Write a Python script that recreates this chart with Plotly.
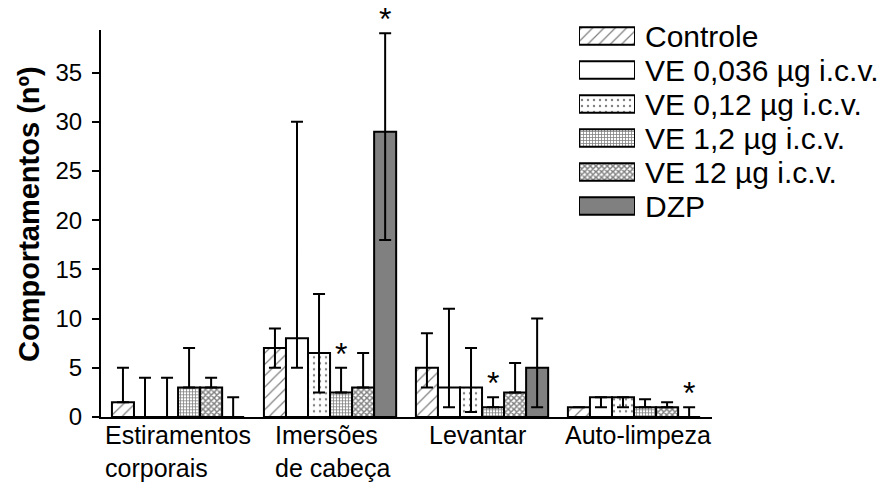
import plotly.graph_objects as go

# --- data -----------------------------------------------------------------
categories = ["Estiramentos<br>corporais", "Imersões<br>de cabeça", "Levantar", "Auto-limpeza"]
series = ["Controle", "VE 0,036 µg i.c.v.", "VE 0,12 µg i.c.v.", "VE 1,2 µg i.c.v.", "VE 12 µg i.c.v.", "DZP"]

# medians (bar height) and the upper / lower ends of the error bars
controle_med = [1.5, 7, 5, 1]
controle_hi = [5, 9, 8.5, 1]
controle_lo = [1.5, 5, 3, 1]

ve0036_med = [0, 8, 3, 2]
ve0036_hi = [4, 30, 11, 2]
ve0036_lo = [0, 5, 1, 1]

ve012_med = [0, 6.5, 3, 2]
ve012_hi = [4, 12.5, 7, 2]
ve012_lo = [0, 2.5, 0.5, 1]

ve12_med = [3, 2.5, 1, 1]
ve12_hi = [7, 5, 2, 1.8]
ve12_lo = [3, 2.5, 1, 1]

ve120_med = [3, 3, 2.5, 1]
ve120_hi = [4, 6.5, 5.5, 1.5]
ve120_lo = [3, 3, 2.5, 1]

dzp_med = [0, 29, 5, 0]
dzp_hi = [2, 39, 10, 1]
dzp_lo = [0, 18, 1, 0]

# (category index, series index) marked with an asterisk
significant = [(1, 3), (1, 5), (2, 3), (3, 5)]

y_ticks = [0, 5, 10, 15, 20, 25, 30, 35]

# --- styling --------------------------------------------------------------
FONT = "Arial, Liberation Sans, sans-serif"
W, H = 895, 489
ML, MR, MT, MB = 101, 183, 10, 72
BARGAP = 0.13
PX_PER_UNIT = 9.84
Y_MAX = 39.3

patterns = [
    dict(shape="/", size=8, solidity=0.15, fgcolor="black", bgcolor="white"),
    dict(shape="", fgcolor="black", bgcolor="white"),
    dict(shape=".", size=6, solidity=0.12, fgcolor="black", bgcolor="white"),
    dict(shape="+", size=3, solidity=0.45, fgcolor="black", bgcolor="white"),
    dict(shape="x", size=4, solidity=0.6, fgcolor="black", bgcolor="white"),
    dict(shape=""),
]
fills = ["white", "white", "white", "white", "white", "#808080"]

meds = [controle_med, ve0036_med, ve012_med, ve12_med, ve120_med, dzp_med]
his = [controle_hi, ve0036_hi, ve012_hi, ve12_hi, ve120_hi, dzp_hi]
los = [controle_lo, ve0036_lo, ve012_lo, ve12_lo, ve120_lo, dzp_lo]


def paper_x(px):
    return (px - ML) / (W - ML - MR)


def paper_y(py):
    return 1 - (py - MT) / (H - MT - MB)


Y_TOP = paper_y(417 - Y_MAX * PX_PER_UNIT)  # top of the main y axis (paper units)

fig = go.Figure()

for name, med, hi, lo, pat, fill in zip(series, meds, his, los, patterns, fills):
    fig.add_bar(
        x=categories,
        y=med,
        name=name,
        showlegend=False,
        cliponaxis=False,
        marker=dict(color=fill, line=dict(color="black", width=2), pattern=pat),
        error_y=dict(
            type="data",
            symmetric=False,
            array=[h - m for h, m in zip(hi, med)],
            arrayminus=[m - l for m, l in zip(med, lo)],
            color="black",
            thickness=2,
            width=6,
        ),
    )
    # legend swatch drawn in its own small subplot
    fig.add_bar(
        x=[1],
        y=[name],
        orientation="h",
        width=0.52,
        showlegend=False,
        hoverinfo="skip",
        marker=dict(color=fill, line=dict(color="black", width=2), pattern=pat),
        xaxis="x2",
        yaxis="y2",
    )
    fig.add_annotation(
        x=paper_x(643),
        y=name,
        xref="paper",
        yref="y2",
        text=name,
        showarrow=False,
        xanchor="left",
        font=dict(family=FONT, size=30, color="black"),
    )

# asterisks above significant bars
bar_w = (1 - BARGAP) / len(series)
for ci, si in significant:
    fig.add_annotation(
        x=ci + (si - (len(series) - 1) / 2) * bar_w,
        y=his[si][ci] / Y_MAX * Y_TOP,
        xref="x",
        yref="paper",
        text="*",
        showarrow=False,
        yanchor="bottom",
        yshift=-6,
        font=dict(family=FONT, size=32, color="black"),
    )

# category labels, left aligned as in the original
label_left_px = [103, 273, 427, 563]
for cat, lx in zip(categories, label_left_px):
    fig.add_annotation(
        x=paper_x(lx),
        y=0,
        xref="paper",
        yref="paper",
        text=cat,
        showarrow=False,
        xanchor="left",
        yanchor="top",
        align="left",
        yshift=-2,
        font=dict(family=FONT, size=25, color="black"),
    )

fig.add_annotation(
    x=paper_x(29),
    y=paper_y(214),
    xref="paper",
    yref="paper",
    text="<b>Comportamentos (nº)</b>",
    textangle=-90,
    showarrow=False,
    xanchor="center",
    yanchor="middle",
    font=dict(family=FONT, size=29, color="black"),
)

fig.update_layout(
    width=W,
    height=H,
    margin=dict(l=ML, r=MR, t=MT, b=MB),
    paper_bgcolor="white",
    plot_bgcolor="white",
    barmode="group",
    bargap=BARGAP,
    bargroupgap=0,
    font=dict(family=FONT, color="black"),
    xaxis=dict(
        range=[-0.507, 3.513],
        showticklabels=False,
        ticks="",
        showgrid=False,
        zeroline=False,
        showline=True,
        linecolor="black",
        linewidth=2,
    ),
    yaxis=dict(
        domain=[0, Y_TOP],
        range=[0, Y_MAX],
        tickvals=y_ticks,
        ticks="outside",
        ticklen=7,
        tickwidth=2,
        tickcolor="black",
        ticklabelstandoff=5,
        tickfont=dict(family=FONT, size=24, color="black"),
        showgrid=False,
        zeroline=False,
        showline=True,
        linecolor="black",
        linewidth=2,
    ),
    xaxis2=dict(
        domain=[paper_x(579), paper_x(635)],
        range=[0, 1],
        anchor="y2",
        visible=False,
    ),
    yaxis2=dict(
        domain=[paper_y(223), paper_y(19)],
        anchor="x2",
        type="category",
        categoryarray=series,
        range=[5.5, -0.5],
        visible=False,
    ),
)

# drop the browser's default body margin so the figure sits at the page corner
fig.write_html(
    "out.html",
    config={"displayModeBar": False},
    post_script="document.body.style.margin = '0';",
)
